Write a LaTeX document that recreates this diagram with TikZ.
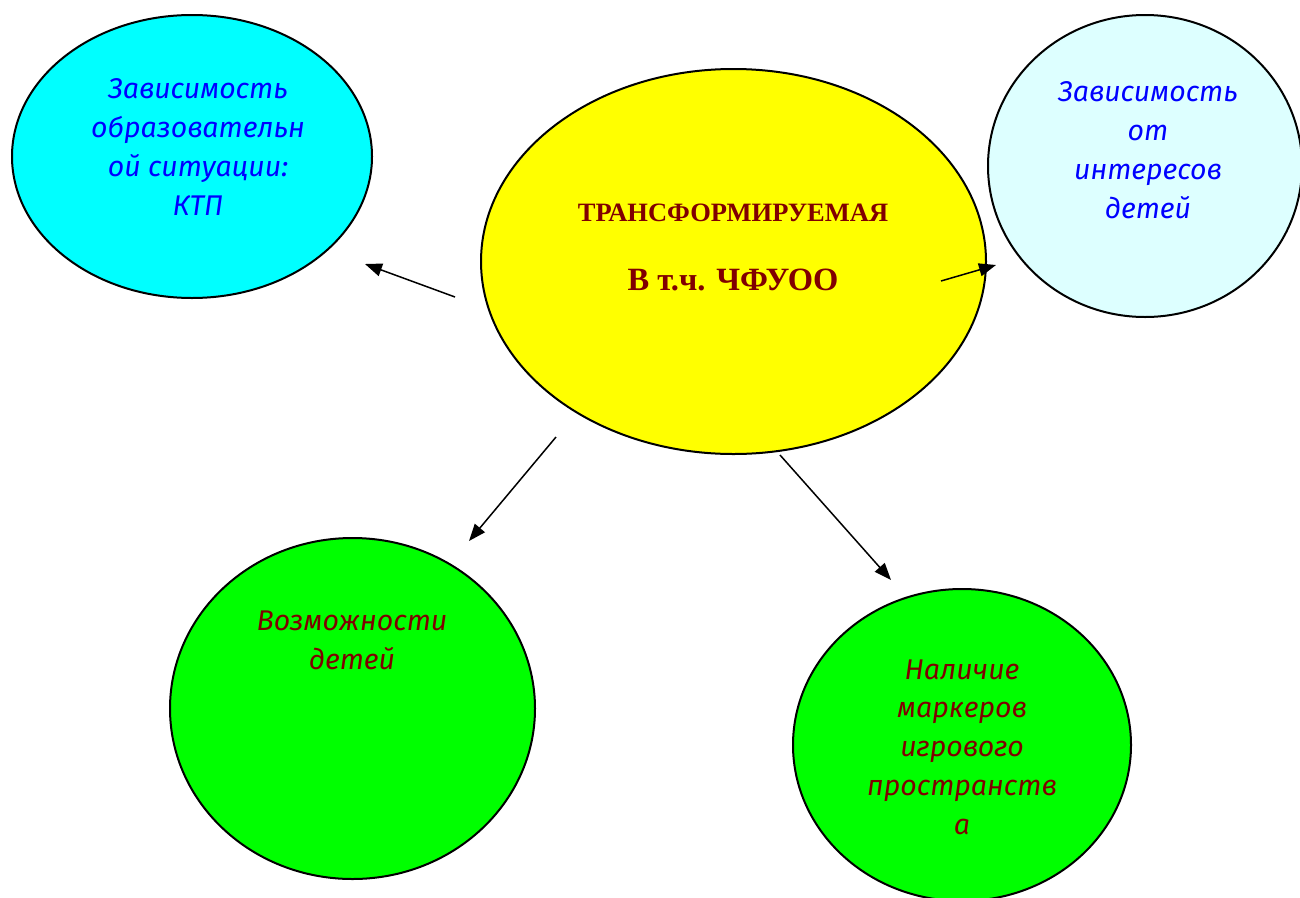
\documentclass[tikz,border=0pt]{standalone}
\usepackage{fontspec}
\setmainfont{Liberation Serif}
\newfontfamily\lblfont{Fira Sans}
\usetikzlibrary{shapes.geometric,arrows.meta}
\definecolor{cyanfill}{HTML}{00FFFF}
\definecolor{lightcyanfill}{HTML}{DDFFFF}
\definecolor{yellowfill}{HTML}{FFFF00}
\definecolor{greenfill}{HTML}{00FF00}
\definecolor{darkred}{HTML}{800000}
\definecolor{textblue}{HTML}{0000FF}
\begin{document}
\begin{tikzpicture}[x=1pt,y=-1pt,
  bubble/.style={ellipse,draw=black,line width=2pt,inner sep=0pt},
  conn/.style={line width=1.5pt,-{Triangle[length=17pt,width=13pt]}},
  lbl/.style={align=center,font=\lblfont\itshape\fontsize{28.5}{38.8}\selectfont},
  ctext/.style={text=darkred}]
\useasboundingbox (0,0) rectangle (1300,897);
\clip (0,0) rectangle (1300,897);
\fill[white] (0,0) rectangle (1300,897);
% ellipses
\node[bubble,fill=cyanfill,minimum width=360pt,minimum height=283pt] (e1) at (192,156.5) {};
\node[bubble,fill=lightcyanfill,minimum width=314pt,minimum height=302pt] (e2) at (1145,166) {};
\node[bubble,fill=yellowfill,minimum width=505pt,minimum height=385pt] (e0) at (733.5,261.5) {};
\node[bubble,fill=greenfill,minimum width=365pt,minimum height=341pt] (e3) at (352.5,708.5) {};
\node[bubble,fill=greenfill,minimum width=338pt,minimum height=312pt] (e4) at (962,745) {};
% texts
\node[lbl,text=textblue] (t1) at (198,147) {Зависимость\\образовательн\\ой ситуации:\\КТП};
\node[lbl,text=textblue] (t2) at (1148,150) {Зависимость\\от\\интересов\\детей};
\node[ctext,font=\bfseries\fontsize{26.5}{26.5}\selectfont] (t0a) at (733,213) {ТРАНСФОРМИРУЕМАЯ};
\node[ctext,font=\bfseries\fontsize{32.5}{32.5}\selectfont] (t0b) at (733,280) {В т.ч. ЧФУОО};
\node[lbl,text=darkred] (t3) at (352,640) {Возможности\\детей};
\node[lbl,text=darkred] (t4) at (962,747) {Наличие\\маркеров\\игрового\\пространств\\а};
% connectors
\coordinate (a1s) at (455,297); \coordinate (a1e) at (365,264);
\coordinate (a2s) at (941,281); \coordinate (a2e) at (996,265);
\coordinate (a3s) at (556,437); \coordinate (a3e) at (469,541);
\coordinate (a4s) at (780,455); \coordinate (a4e) at (891,580);
\draw[conn] (a1s) -- (a1e);
\draw[conn] (a2s) -- (a2e);
\draw[conn] (a3s) -- (a3e);
\draw[conn] (a4s) -- (a4e);
\end{tikzpicture}
\end{document}
